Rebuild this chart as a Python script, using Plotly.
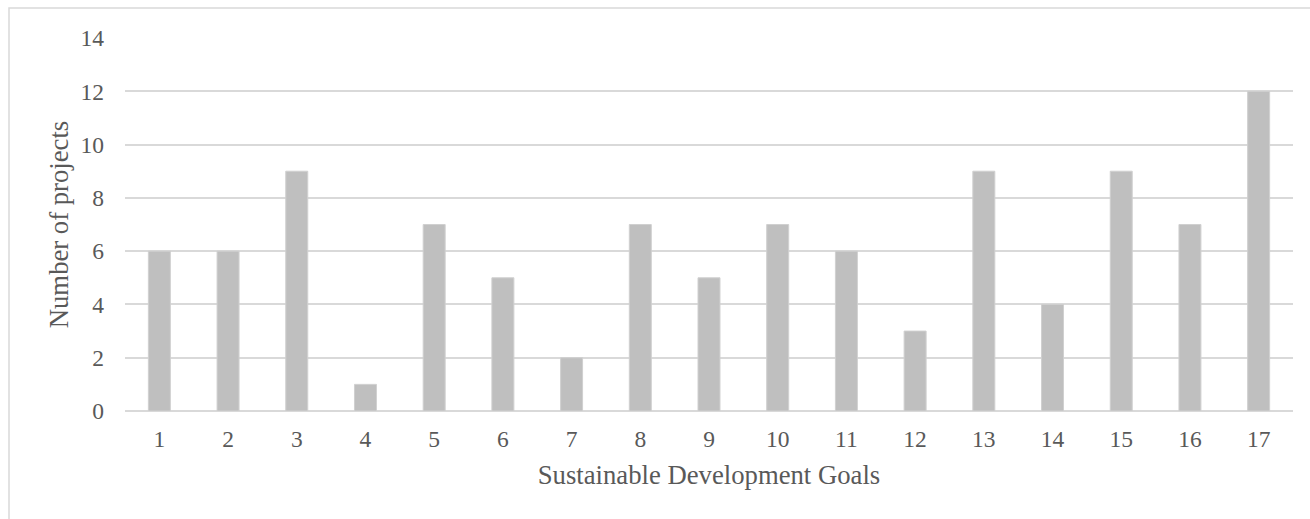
import plotly.graph_objects as go

# Sustainable Development Goals and the number of projects addressing each
goals = [str(i) for i in range(1, 18)]
projects = [6, 6, 9, 1, 7, 5, 2, 7, 5, 7, 6, 3, 9, 4, 9, 7, 12]
y_ticks = [0, 2, 4, 6, 8, 10, 12, 14]

W, H = 1310, 519
L, R, T, B = 125, 17, 38, 108

fig = go.Figure(
    go.Bar(
        x=goals,
        y=projects,
        marker=dict(color="#BFBFBF", line=dict(color="#D0D0D0", width=1)),
        hoverinfo="x+y",
    )
)

font_family = "Liberation Serif, Times New Roman, serif"
text_color = "#595959"

# outer chart frame, running past the right and bottom edges of the page
pw = W - L - R
ph = H - T - B
fig.add_shape(
    type="rect",
    xref="paper", yref="paper",
    x0=(9 - L) / pw, x1=(W + 5 - L) / pw,
    y0=-(B + 5) / ph, y1=(H - B - 8) / ph,
    line=dict(color="#D9D9D9", width=1.5),
    fillcolor="rgba(0,0,0,0)",
    layer="below",
)

fig.update_layout(
    width=W, height=H,
    margin=dict(l=L, r=R, t=T, b=B),
    paper_bgcolor="white",
    plot_bgcolor="white",
    bargap=0.68,
    showlegend=False,
    font=dict(family=font_family, color=text_color),
    xaxis=dict(
        type="category",
        showgrid=False,
        showline=False,
        ticks="",
        tickfont=dict(size=23.5, color=text_color),
        ticklabelstandoff=11,
        title=dict(text="Sustainable Development Goals",
                   font=dict(size=26.7, color=text_color), standoff=14),
    ),
    yaxis=dict(
        range=[0, 14],
        tickvals=y_ticks,
        showgrid=True,
        gridcolor="#D9D9D9",
        gridwidth=1.5,
        zeroline=True,
        zerolinecolor="#D9D9D9",
        zerolinewidth=1.5,
        showline=False,
        ticks="",
        tickfont=dict(size=23.5, color=text_color),
        ticklabelstandoff=20,
        title=dict(text="Number of projects",
                   font=dict(size=26.7, color=text_color), standoff=4),
    ),
)

fig.write_html("out.html")
